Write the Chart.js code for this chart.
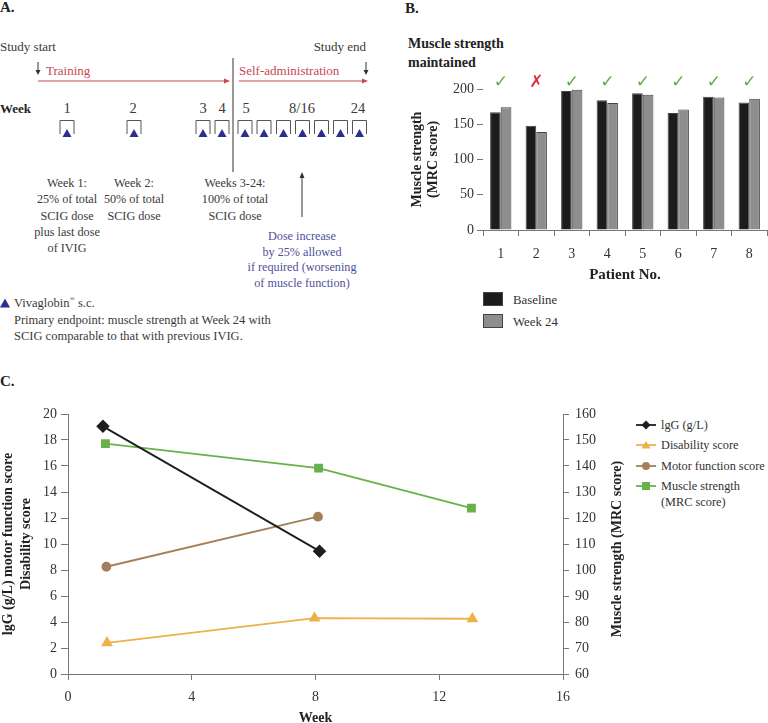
<!DOCTYPE html>
<html><head><meta charset="utf-8">
<script src="https://cdn.jsdelivr.net/npm/chart.js@4.4.0/dist/chart.umd.min.js"></script>
<style>
html,body{margin:0;padding:0;background:#fff;}
body{width:768px;height:723px;position:relative;overflow:hidden;font-family:"Liberation Serif",serif;color:#333;}
.abs{position:absolute;}
.lbl{position:absolute;font-weight:bold;font-size:15px;color:#222;line-height:1;}
.leg{position:absolute;font-size:12.8px;color:#333;line-height:16px;white-space:nowrap;}
</style></head><body>
<div class="lbl" style="left:0;top:0">A.</div>
<div class="lbl" style="top:1px;left:405px">B.</div>
<div class="lbl" style="left:0;top:374px">C.</div>
<svg id="diagA" class="abs" style="left:0;top:0" width="400" height="345" xmlns="http://www.w3.org/2000/svg"></svg>

<div class="abs" style="left:408px;top:34px;font-weight:bold;font-size:14px;line-height:19px;color:#222;">Muscle strength<br>maintained</div>
<canvas id="chartB" class="abs" style="left:400px;top:70px" width="368" height="220"></canvas>
<div class="abs" style="left:483px;top:292px;width:20px;height:14px;background:#1c1c1c;border:1px solid #444;box-sizing:border-box"></div>
<div class="leg" style="left:513px;top:292px">Baseline</div>
<div class="abs" style="left:483px;top:314px;width:20px;height:14px;background:#8e8e8e;border:1px solid #444;box-sizing:border-box"></div>
<div class="leg" style="left:513px;top:314px">Week 24</div>

<canvas id="chartC" class="abs" style="left:0;top:395px" width="640" height="330"></canvas>
<div class="abs" style="left:617px;top:549px;transform:translate(-50%,-50%) rotate(-90deg);white-space:nowrap;font-weight:bold;font-size:14px;color:#222;">Muscle strength (MRC score)</div>
<div id="legC"></div>

<script>
// ---------- Panel B data ----------
const patients = ['1','2','3','4','5','6','7','8'];
const baselineMRC = [167, 148, 197, 184, 194, 166, 189, 181];
const week24MRC = [174, 139, 199, 180, 192, 171, 188, 186];
const maintained = [true, false, true, true, true, true, true, true];

// ---------- Panel C data ----------
const iggWeeks = [1.13, 8.13];
const iggValues = [19.05, 9.45];
const disabilityWeeks = [1.26, 7.97, 13.07];
const disabilityValues = [2.4, 4.3, 4.25];
const motorWeeks = [1.24, 8.08];
const motorValues = [8.25, 12.1];
const muscleWeeks = [1.21, 8.1, 13.04];
const muscleValues = [148.6, 139.2, 123.8];

// ---------- Panel A schematic text ----------
const weekNumbers = ['1','2','3','4','5','8/16','24'];
const weekNumberX = [67,133,203,222,246,302,358];
const doseBoxX = [67,134,203,222,245,264,283.5,302.5,321.5,340.5,359.5];

const SERIF = '"Liberation Serif", serif';
const TXT = '#3a3a3a';
const RED = '#c9474f';
const BLUE = '#4f4f9c';
const NAVY = '#2b2f8c';

(function drawA(){
  const svg = document.getElementById('diagA');
  let s = '';
  const t = (x,y,str,opt={}) => {
    s += `<text x="${x}" y="${y}" font-family='${SERIF}' font-size="${opt.size||12.5}" fill="${opt.fill||TXT}" text-anchor="${opt.anchor||'start'}" dominant-baseline="central" ${opt.bold?'font-weight="bold"':''}>${str}</text>`;
  };
  const line = (x1,y1,x2,y2,c,w) => { s += `<line x1="${x1}" y1="${y1}" x2="${x2}" y2="${y2}" stroke="${c}" stroke-width="${w||1}"/>`; };
  t(0,46,'Study start',{size:13});
  t(366,46,'Study end',{anchor:'end',size:13});
  line(38,62,38,72,'#333',1); s += `<path d="M35.5,70 L38,75 L40.5,70 Z" fill="#333"/>`;
  line(366,62,366,72,'#333',1); s += `<path d="M363.5,70 L366,75 L368.5,70 Z" fill="#333"/>`;
  t(46,70,'Training',{fill:RED,size:13});
  t(239,70,'Self-administration',{fill:RED,size:13});
  line(38,81,226,81,RED,1); s += `<path d="M224,78.5 L230,81 L224,83.5 Z" fill="${RED}"/>`;
  line(239,81,364,81,RED,1); s += `<path d="M362,78.5 L368,81 L362,83.5 Z" fill="${RED}"/>`;
  line(233,58,233,172,'#333',1);
  t(0,108,'Week',{bold:true,fill:'#222',size:13});
  weekNumbers.forEach((w,i)=>t(weekNumberX[i],108,w,{size:14.5,anchor:'middle'}));
  doseBoxX.forEach(c=>{
    s += `<path d="M${c-7},134 L${c-7},120.5 L${c+7},120.5 L${c+7},134" fill="none" stroke="#555" stroke-width="1"/>`;
    s += `<path d="M${c-4.5},137 L${c},129 L${c+4.5},137 Z" fill="${NAVY}"/>`;
  });
  const block = (x, lines, ys, fill) => lines.forEach((l,i)=>t(x,ys[i],l,{anchor:'middle',fill,size:12.2}));
  const ly = [183,199.3,215.7,231.7,247.5];
  block(67,['Week 1:','25% of total','SCIG dose','plus last dose','of IVIG'],ly);
  block(134,['Week 2:','50% of total','SCIG dose'],ly);
  block(235,['Weeks 3-24:','100% of total','SCIG dose'],ly);
  line(302,176,302,217,'#333',1); s += `<path d="M299.5,178 L302,172 L304.5,178 Z" fill="#333"/>`;
  block(302,['Dose increase','by 25% allowed','if required (worsening','of muscle function)'],[236,251.7,267.3,283],BLUE);
  s += `<path d="M0,307.5 L5,298.5 L10,307.5 Z" fill="${NAVY}"/>`;
  s += `<text x="14" y="303" font-family='${SERIF}' font-size="12.5" fill="${TXT}" dominant-baseline="central">Vivaglobin<tspan font-size="7" dy="-4">®</tspan><tspan dy="4"> s.c.</tspan></text>`;
  t(14,320,'Primary endpoint: muscle strength at Week 24 with');
  t(14,336,'SCIG comparable to that with previous IVIG.');
  svg.innerHTML = s;
})();

const AX = '#777';

// ---------- Chart B ----------
const checkPlugin = {
  id:'checks',
  afterDatasetsDraw(chart){
    const ctx = chart.ctx, xs = chart.scales.x;
    ctx.save();
    ctx.font = 'bold 17px "DejaVu Sans"';
    ctx.textAlign = 'center'; ctx.textBaseline = 'middle';
    maintained.forEach((ok,i)=>{
      ctx.fillStyle = ok ? '#5cae45' : '#d8343f';
      ctx.fillText(ok ? '\u2713' : '\u2717', xs.getPixelForValue(i), chart.chartArea.top - 6);
    });
    ctx.restore();
  }
};

new Chart(document.getElementById('chartB'), {
  type:'bar',
  data:{labels:patients, datasets:[
    {label:'Baseline', data:baselineMRC, backgroundColor:'#1c1c1c', borderColor:'#444', borderWidth:1},
    {label:'Week 24', data:week24MRC, backgroundColor:'#8e8e8e', borderColor:'#444', borderWidth:1}
  ]},
  options:{
    responsive:false, animation:false,
    layout:{padding:{top:19,right:1,left:0,bottom:0}},
    datasets:{bar:{categoryPercentage:0.6, barPercentage:1}},
    plugins:{legend:{display:false}, tooltip:{enabled:false}},
    scales:{
      x:{
        grid:{display:true, drawOnChartArea:false, drawTicks:true, tickLength:6, color:AX, offset:true},
        border:{display:true, color:AX},
        ticks:{font:{family:SERIF,size:14}, color:'#333', padding:10},
        title:{display:true, text:'Patient No.', font:{family:SERIF,size:15,weight:'bold'}, color:'#222', padding:{top:0,bottom:6}},
        afterFit(s){ s.height = 60; }
      },
      y:{
        min:0, max:200,
        ticks:{stepSize:50, font:{family:SERIF,size:14}, color:'#333', padding:3},
        grid:{display:true, drawOnChartArea:false, drawTicks:true, tickLength:6, color:AX},
        border:{display:false},
        title:{display:true, text:['Muscle strength','(MRC score)'], font:{family:SERIF,size:14,weight:'bold',lineHeight:1.1}, color:'#222', padding:{top:10,bottom:0}},
        afterFit(s){ s.width = 83; }
      }
    }
  },
  plugins:[checkPlugin]
});

// ---------- Chart C ----------
const pts = (xs, ys) => xs.map((x,i)=>({x, y:ys[i]}));
const cIgG = '#1e1e1e', cDis = '#eeb14a', cMot = '#a47f5b', cMus = '#69b24b';
new Chart(document.getElementById('chartC'), {
  type:'line',
  data:{datasets:[
    {label:'lgG (g/L)', data:pts(iggWeeks,iggValues), borderColor:cIgG, backgroundColor:cIgG, pointStyle:'rectRot', pointRadius:5.5, borderWidth:1.8, yAxisID:'y'},
    {label:'Disability score', data:pts(disabilityWeeks,disabilityValues), borderColor:cDis, backgroundColor:cDis, pointStyle:'triangle', pointRadius:5, borderWidth:1.8, yAxisID:'y'},
    {label:'Motor function score', data:pts(motorWeeks,motorValues), borderColor:cMot, backgroundColor:cMot, pointStyle:'circle', pointRadius:4, borderWidth:1.8, yAxisID:'y'},
    {label:'Muscle strength (MRC score)', data:pts(muscleWeeks,muscleValues), borderColor:cMus, backgroundColor:cMus, pointStyle:'rect', pointRadius:5, borderWidth:1.8, yAxisID:'y2'}
  ]},
  options:{
    responsive:false, animation:false,
    layout:{padding:{top:19,right:0,left:0,bottom:0}},
    elements:{line:{tension:0}},
    plugins:{legend:{display:false}, tooltip:{enabled:false}},
    scales:{
      x:{
        type:'linear', min:0, max:16,
        ticks:{stepSize:4, font:{family:SERIF,size:14}, color:'#333', padding:9},
        grid:{display:true, drawOnChartArea:false, drawTicks:true, tickLength:6, color:AX},
        border:{display:true, color:AX},
        title:{display:true, text:'Week', font:{family:SERIF,size:14,weight:'bold',lineHeight:1}, color:'#222', padding:{top:0,bottom:0}},
        afterFit(s){ s.height = 51; }
      },
      y:{
        position:'left', min:0, max:20,
        ticks:{stepSize:2, font:{family:SERIF,size:14}, color:'#333', padding:4},
        grid:{display:true, drawOnChartArea:false, drawTicks:true, tickLength:7, color:AX},
        border:{display:true, color:AX},
        title:{display:true, text:['lgG (g/L) motor function score','Disability score'], font:{family:SERIF,size:14,weight:'bold',lineHeight:1.25}, color:'#222', padding:{top:0,bottom:0}},
        afterFit(s){ s.width = 68; }
      },
      y2:{
        position:'right', min:60, max:160,
        ticks:{stepSize:10, font:{family:SERIF,size:14}, color:'#333', padding:6},
        grid:{display:true, drawOnChartArea:false, drawTicks:true, tickLength:6, color:AX},
        border:{display:true, color:AX},
        afterFit(s){ s.width = 77; }
      }
    }
  }
});

// ---------- Legend C ----------
(function(){
  const items = [
    {lines:['lgG (g/L)'], c:cIgG, m:'diamond', y:425},
    {lines:['Disability score'], c:cDis, m:'triangle', y:445},
    {lines:['Motor function score'], c:cMot, m:'circle', y:466},
    {lines:['Muscle strength','(MRC score)'], c:cMus, m:'square', y:486}
  ];
  const host = document.getElementById('legC');
  let h = '';
  items.forEach(it=>{
    let mk = '';
    if(it.m==='diamond') mk = `<path d="M10,1.5 L14.5,6 L10,10.5 L5.5,6 Z" fill="${it.c}"/>`;
    if(it.m==='triangle') mk = `<path d="M5.5,9.5 L10,2 L14.5,9.5 Z" fill="${it.c}"/>`;
    if(it.m==='circle') mk = `<circle cx="10" cy="6" r="4" fill="${it.c}"/>`;
    if(it.m==='square') mk = `<rect x="6" y="2" width="8" height="8" fill="${it.c}"/>`;
    h += `<svg class="abs" style="left:636px;top:${it.y-6}px" width="20" height="12"><line x1="0" y1="6" x2="20" y2="6" stroke="${it.c}" stroke-width="1.8"/>${mk}</svg>`;
    h += `<div class="leg" style="left:661px;top:${it.y-8}px;font-size:12.3px">${it.lines.join('<br>')}</div>`;
  });
  host.innerHTML = h;
})();
</script>
</body></html>
